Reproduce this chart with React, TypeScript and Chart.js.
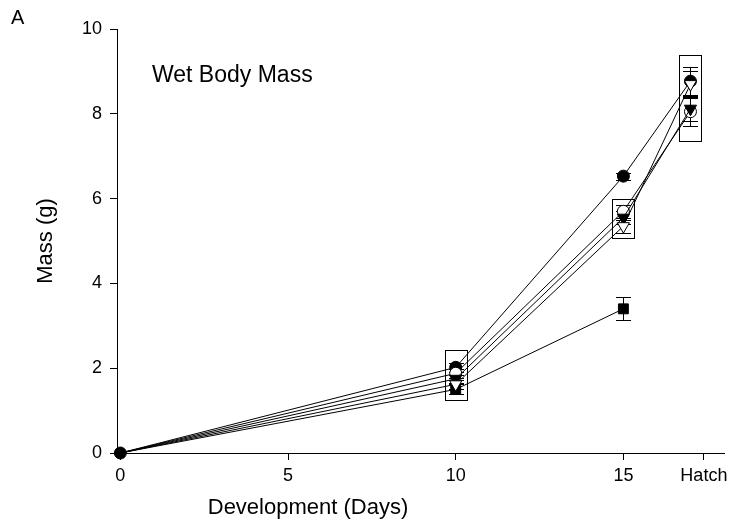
import React, { useEffect, useRef } from "react";
import { Chart, registerables } from "chart.js";

Chart.register(...registerables);

// Sampling days (hatch plotted just before the end of the axis)
const days = [0, 10, 15, 17];
const xTickValues = [0, 5, 10, 15, 17.4];
const xTickLabels = ["0", "5", "10", "15", "Hatch"];
const yTickValues = [0, 2, 4, 6, 8, 10];

// Mean wet body mass (g) and standard error per group
const massFilledCircle = [0, 2.02, 6.53, 8.77];
const errFilledCircle = [0, 0.1, 0.08, 0.33];
const massOpenCircle = [0, 1.88, 5.7, 8.05];
const errOpenCircle = [0, 0.1, 0.15, 0.33];
const massFilledTriangle = [0, 1.75, 5.55, 8.12];
const errFilledTriangle = [0, 0.1, 0.15, 0.3];
const massOpenTriangle = [0, 1.62, 5.35, 8.7];
const errOpenTriangle = [0, 0.1, 0.15, 0.3];
const massFilledSquare = [0, 1.5, 3.4, null];
const errFilledSquare = [0, 0.12, 0.27, null];

// Groups that do not differ (boxed), in mass units
const boxDays = [10, 15, 17];
const boxLow = [1.25, 5.08, 7.35];
const boxHigh = [2.43, 6.0, 9.38];

const FONT = "'Liberation Sans', Arial, Helvetica, sans-serif";

type Series = {
  label: string;
  values: (number | null)[];
  errors: (number | null)[];
  style: string;
  rotation: number;
  filled: boolean;
  radius: number;
  order: number;
  originMarker: boolean;
};

// order: lower numbers are painted on top; the shared day-0 point shows one marker
const series: Series[] = [
  { label: "Group 1", values: massFilledCircle, errors: errFilledCircle, style: "circle", rotation: 0, filled: true, radius: 6, order: 3, originMarker: true },
  { label: "Group 2", values: massOpenCircle, errors: errOpenCircle, style: "circle", rotation: 0, filled: false, radius: 6, order: 2, originMarker: false },
  { label: "Group 3", values: massFilledTriangle, errors: errFilledTriangle, style: "triangle", rotation: 180, filled: true, radius: 7, order: 1, originMarker: false },
  { label: "Group 4", values: massOpenTriangle, errors: errOpenTriangle, style: "triangle", rotation: 180, filled: false, radius: 7, order: 0, originMarker: false },
  { label: "Group 5", values: massFilledSquare, errors: errFilledSquare, style: "rect", rotation: 0, filled: true, radius: 7, order: 4, originMarker: false },
];

const errorBarPlugin = {
  id: "errorBars",
  beforeDatasetsDraw(chart: any) {
    const { ctx, scales } = chart;
    const xs = scales.x;
    const ys = scales.y;
    ctx.save();
    ctx.strokeStyle = "#000";
    ctx.lineWidth = 1;
    series.forEach((s) => {
      s.values.forEach((v, i) => {
        const e = s.errors[i];
        if (v === null || e === null || e === 0) return;
        const px = Math.round(xs.getPixelForValue(days[i])) + 0.5;
        const top = Math.round(ys.getPixelForValue(v + e)) + 0.5;
        const bot = Math.round(ys.getPixelForValue(v - e)) + 0.5;
        ctx.beginPath();
        ctx.moveTo(px, top);
        ctx.lineTo(px, bot);
        ctx.moveTo(px - 7.5, top);
        ctx.lineTo(px + 7.5, top);
        ctx.moveTo(px - 7.5, bot);
        ctx.lineTo(px + 7.5, bot);
        ctx.stroke();
      });
    });
    ctx.restore();
  },
};

const boxPlugin = {
  id: "groupBoxes",
  afterDatasetsDraw(chart: any) {
    const { ctx, scales } = chart;
    ctx.save();
    ctx.strokeStyle = "#000";
    ctx.lineWidth = 1;
    boxDays.forEach((d, i) => {
      const cx = scales.x.getPixelForValue(d);
      const top = Math.round(scales.y.getPixelForValue(boxHigh[i])) + 0.5;
      const bot = Math.round(scales.y.getPixelForValue(boxLow[i])) + 0.5;
      const l = Math.round(cx - 11) + 0.5;
      ctx.strokeRect(l, top, 22, bot - top);
    });
    ctx.restore();
  },
};

const textPlugin = {
  id: "labels",
  afterDraw(chart: any) {
    const { ctx, chartArea } = chart;
    ctx.save();
    ctx.fillStyle = "#000";
    ctx.textBaseline = "alphabetic";
    ctx.textAlign = "left";

    ctx.font = `20px ${FONT}`;
    ctx.fillText("A", 11, 24);

    ctx.font = `23px ${FONT}`;
    ctx.fillText("Wet Body Mass", 152, 82);

    ctx.textBaseline = "middle";
    ctx.font = `22px ${FONT}`;
    ctx.textAlign = "center";
    ctx.fillText("Development (Days)", 308, 508);

    ctx.translate(46, (chartArea.top + chartArea.bottom) / 2);
    ctx.rotate(-Math.PI / 2);
    ctx.fillText("Mass (g)", 0, 0);
    ctx.restore();
  },
};

export default function App() {
  const canvasRef = useRef<HTMLCanvasElement | null>(null);

  useEffect(() => {
    document.body.style.margin = "0";
    const canvas = canvasRef.current;
    if (!canvas) return;

    const datasets = series.map((s) => ({
      label: s.label,
      order: s.order,
      data: days.map((d, i) => ({ x: d, y: s.values[i] })),
      borderColor: "#000",
      borderWidth: 1,
      backgroundColor: s.filled ? "#000" : "#fff",
      pointBackgroundColor: s.filled ? "#000" : "#fff",
      pointBorderColor: "#000",
      pointBorderWidth: 1,
      pointStyle: s.style,
      pointRotation: s.rotation,
      pointRadius: days.map((_, i) => (i === 0 && !s.originMarker ? 0 : s.radius)),
      pointHoverRadius: days.map((_, i) => (i === 0 && !s.originMarker ? 0 : s.radius)),
      showLine: true,
      spanGaps: false,
      clip: false as any,
      tension: 0,
    }));

    const chart = new Chart(canvas, {
      type: "scatter",
      data: { datasets: datasets as any },
      plugins: [errorBarPlugin, boxPlugin, textPlugin],
      options: {
        responsive: false,
        animation: false,
        devicePixelRatio: 1,
        layout: { padding: { top: 29, right: 15, left: 0, bottom: 0 } },
        plugins: {
          legend: { display: false },
          tooltip: { enabled: false },
          title: { display: false },
        },
        scales: {
          x: {
            type: "linear",
            min: -0.1,
            max: 18,
            afterFit(scale: any) {
              scale.height = 78;
            },
            afterBuildTicks(scale: any) {
              scale.ticks = xTickValues.map((v) => ({ value: v }));
            },
            ticks: {
              autoSkip: false,
              maxRotation: 0,
              padding: 5,
              color: "#000",
              font: { family: FONT, size: 18 },
              callback: (value: any) => {
                const idx = xTickValues.indexOf(Number(value));
                return idx >= 0 ? xTickLabels[idx] : "";
              },
            },
            grid: {
              display: true,
              drawOnChartArea: false,
              drawTicks: true,
              tickLength: 7,
              color: "#000",
            },
            border: { display: true, color: "#000", width: 1 },
          },
          y: {
            type: "linear",
            min: 0,
            max: 10,
            afterFit(scale: any) {
              scale.width = 117;
            },
            afterBuildTicks(scale: any) {
              scale.ticks = yTickValues.map((v) => ({ value: v }));
            },
            ticks: {
              padding: 8,
              color: "#000",
              font: { family: FONT, size: 18 },
            },
            grid: {
              display: true,
              drawOnChartArea: false,
              drawTicks: true,
              tickLength: 7,
              color: "#000",
            },
            border: { display: true, color: "#000", width: 1 },
          },
        },
      } as any,
    });

    return () => chart.destroy();
  }, []);

  return (
    <div style={{ width: 739, height: 531, background: "#fff" }}>
      <canvas ref={canvasRef} width={739} height={531} />
    </div>
  );
}
